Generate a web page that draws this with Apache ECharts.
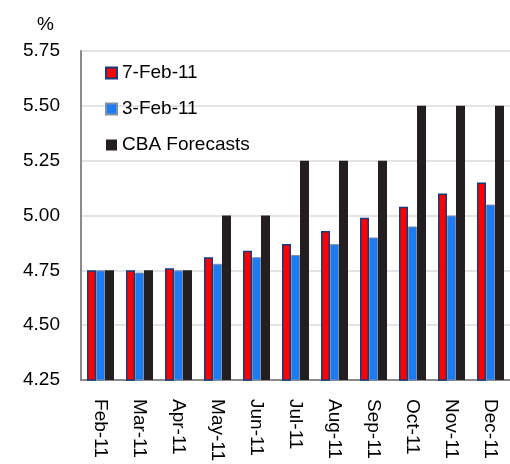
<!DOCTYPE html>
<html>
<head>
<meta charset="utf-8">
<script src="https://cdn.jsdelivr.net/npm/echarts@6/dist/echarts.min.js"></script>
<style>
  html, body { margin: 0; padding: 0; background: #fff; }
  #chart { width: 510px; height: 464px; }
</style>
</head>
<body>
<div id="chart"></div>
<script>
// Cash rate expectations by month (%)
const months = ['Feb-11', 'Mar-11', 'Apr-11', 'May-11', 'Jun-11', 'Jul-11', 'Aug-11', 'Sep-11', 'Oct-11', 'Nov-11', 'Dec-11'];
const feb7 = [4.75, 4.75, 4.76, 4.81, 4.84, 4.87, 4.93, 4.99, 5.04, 5.10, 5.15];
const feb3 = [4.75, 4.74, 4.75, 4.78, 4.81, 4.82, 4.87, 4.90, 4.95, 5.00, 5.05];
const cbaForecasts = [4.75, 4.75, 4.75, 5.00, 5.00, 5.25, 5.25, 5.25, 5.50, 5.50, 5.50];
const yTicks = [4.25, 4.50, 4.75, 5.00, 5.25, 5.50, 5.75];

const FONT = 'Liberation Sans, Arial, sans-serif';
const chart = echarts.init(document.getElementById('chart'), null, { renderer: 'canvas' });

chart.setOption({
  animation: false,
  backgroundColor: '#ffffff',
  title: {
    text: '%',
    left: 32,
    top: 10,
    textStyle: { fontFamily: FONT, fontSize: 19, fontWeight: 'normal', color: '#000' }
  },
  grid: { left: 81, right: 0, top: 51, bottom: 83, containLabel: false },
  legend: {
    orient: 'vertical',
    left: 100,
    top: 58,
    icon: 'rect',
    itemWidth: 11,
    itemHeight: 11,
    itemGap: 16,
    textStyle: { fontFamily: FONT, fontSize: 19, color: '#000', lineHeight: 20 },
    data: ['7-Feb-11', '3-Feb-11', 'CBA Forecasts']
  },
  xAxis: {
    type: 'category',
    data: months,
    axisLine: { lineStyle: { color: '#8a8a8a', width: 2 } },
    axisTick: { show: false },
    axisLabel: {
      rotate: -90,
      margin: 19,
      fontFamily: FONT,
      fontSize: 19,
      color: '#000',
      interval: 0
    }
  },
  yAxis: {
    type: 'value',
    min: yTicks[0],
    max: yTicks[yTicks.length - 1],
    interval: 0.25,
    axisLine: { show: true, lineStyle: { color: '#8a8a8a', width: 2 } },
    axisTick: { show: false },
    splitLine: { lineStyle: { color: '#e4e4e4', width: 2 } },
    axisLabel: {
      margin: 21,
      fontFamily: FONT,
      fontSize: 19,
      color: '#000',
      formatter: v => v.toFixed(2)
    }
  },
  series: [
    {
      name: '7-Feb-11',
      type: 'bar',
      data: feb7,
      barWidth: 9,
      barGap: '0%',
      itemStyle: { color: '#ff0000', borderColor: '#173a7c', borderWidth: 1.5 }
    },
    {
      name: '3-Feb-11',
      type: 'bar',
      data: feb3,
      barWidth: 9,
      barGap: '0%',
      itemStyle: { color: '#1e7cf2', borderColor: '#8190aa', borderWidth: 1 }
    },
    {
      name: 'CBA Forecasts',
      type: 'bar',
      data: cbaForecasts,
      barWidth: 9,
      barGap: '0%',
      itemStyle: { color: '#231f20' }
    }
  ]
});
</script>
</body>
</html>
